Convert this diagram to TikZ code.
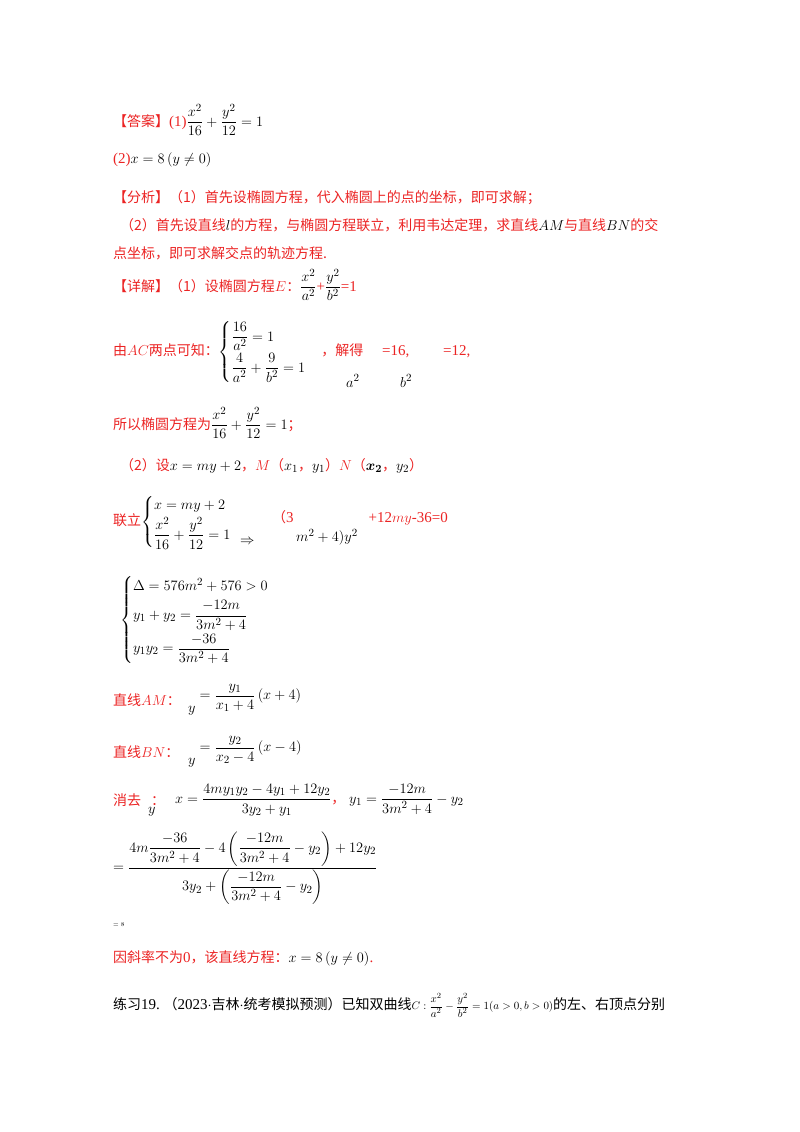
\documentclass[tikz,border=0pt]{standalone}
\usepackage{fontspec}
\usepackage{amsmath}
\setmainfont{Liberation Serif}
\newfontfamily\cjk{Noto Sans CJK SC}
\definecolor{rd}{RGB}{235,35,35}
\newcommand{\zh}[1]{{\cjk\fontsize{14}{15}\selectfont #1}}
\begin{document}
\begin{tikzpicture}[x=1pt,y=-1pt,
  t/.style={anchor=west,inner sep=0pt,font=\fontsize{15}{17}\selectfont,text=rd},
  k/.style={anchor=west,inner sep=0pt,font=\fontsize{15}{17}\selectfont,text=black}]
\useasboundingbox (0,0) rectangle (800,1132);
\node[t] (l1) at (113,120) {\zh{【答案】}(1)\textcolor{black}{$\dfrac{x^2}{16}+\dfrac{y^2}{12}=1$}};
\node[t] (l2) at (113,160) {(2)\textcolor{black}{$x=8\left(y\neq 0\right)$}};
\node[t] (l3) at (113,198) {\zh{【分析】（1）首先设椭圆方程，代入椭圆上的点的坐标，即可求解；}};
\node[t] (l4) at (120,225) {\zh{（2）首先设直线}\textcolor{black}{$l$}\zh{的方程，与椭圆方程联立，利用韦达定理，求直线}\textcolor{black}{$AM$}\zh{与直线}\textcolor{black}{$BN$}\zh{的交}};
\node[t] (l5) at (113,253) {\zh{点坐标，即可求解交点的轨迹方程.}};
\node[t] (l6) at (113,285) {\zh{【详解】（1）设椭圆方程}$E$\zh{：}\textcolor{black}{$\dfrac{x^2}{a^2}$}+\textcolor{black}{$\dfrac{y^2}{b^2}$}=1};
\node[t] (l7) at (113,352) {\zh{由}$AC$\zh{两点可知：}\textcolor{black}{$\begin{cases}\dfrac{16}{a^2}=1\\[6pt] \dfrac{4}{a^2}+\dfrac{9}{b^2}=1\end{cases}$}\zh{，解得}\quad\ =16,\qquad\ =12,};
\node[k] (a2) at (346,381) {$a^2$};
\node[k] (b2) at (400,381) {$b^2$};
\node[t] (l8) at (113,423) {\zh{所以椭圆方程为}\textcolor{black}{$\dfrac{x^2}{16}+\dfrac{y^2}{12}=1$}\zh{；}};
\node[t] (l9) at (120,466) {\zh{（2）设}\textcolor{black}{$x=my+2$}\zh{，}$M$\zh{（}\textcolor{black}{$x_1$}\zh{，}\textcolor{black}{$y_1$}\zh{）}$N$\zh{（}\textcolor{black}{$\boldsymbol{x_2}$}\zh{，}\textcolor{black}{$y_2$}\zh{）}};
\node[t] (l10) at (113,522) {\zh{联立}\textcolor{black}{$\begin{cases}x=my+2\\[2pt] \dfrac{x^2}{16}+\dfrac{y^2}{12}=1\end{cases}$}};
\node[k] (arr) at (240,542) {$\Rightarrow$};
\node[t] (l10b) at (272,518) {\zh{（}3\qquad\qquad\quad +12$my$-36=0};
\node[k] (l10c) at (296,537) {$m^2+4)y^2$};
\node[k] (l11) at (120,620) {$\begin{cases}\Delta=576m^2+576>0\\[4pt] y_1+y_2=\dfrac{-12m}{3m^2+4}\\[8pt] y_1y_2=\dfrac{-36}{3m^2+4}\end{cases}$};
\node[t] (l12) at (113,700) {\zh{直线}$AM$\zh{：}};
\node[k] (l12b) at (188,698) {$\phantom{y}=\dfrac{y_1}{x_1+4}\left(x+4\right)$};
\node[k] (l12c) at (188,711) {$y$};
\node[t] (l13) at (113,752) {\zh{直线}$BN$\zh{：}};
\node[k] (l13b) at (188,750) {$\phantom{y}=\dfrac{y_2}{x_2-4}\left(x-4\right)$};
\node[k] (l13c) at (188,763) {$y$};
\node[t] (l14) at (113,800) {\zh{消去}\hspace{10pt}\zh{：}};
\node[k] (l14y) at (148,812) {$y$};
\node[k] (l14b) at (175,800) {$x=\dfrac{4my_1y_2-4y_1+12y_2}{3y_2+y_1}$\textcolor{rd}{\zh{，}}\ $y_1=\dfrac{-12m}{3m^2+4}-y_2$};
\node[k] (l15) at (113,868) {$=\dfrac{4m\dfrac{-36}{3m^2+4}-4\left(\dfrac{-12m}{3m^2+4}-y_2\right)+12y_2}{3y_2+\left(\dfrac{-12m}{3m^2+4}-y_2\right)}$};
\node[k,font=\fontsize{6}{7}\selectfont] (l16) at (113,925) {$=8$};
\node[t] (l17) at (113,958) {\zh{因斜率不为}0\zh{，该直线方程：}\textcolor{black}{$x=8\left(y\neq0\right)$}.};
\node[k] (l18) at (113,1005) {\zh{练习}19.\ \zh{（}2023$\cdot$\zh{吉林}$\cdot$\zh{统考模拟预测）已知双曲线}{\fontsize{11}{12}\selectfont$C:\dfrac{x^2}{a^2}-\dfrac{y^2}{b^2}=1(a>0,b>0)$}\zh{的左、右顶点分别}};
\end{tikzpicture}
\end{document}
